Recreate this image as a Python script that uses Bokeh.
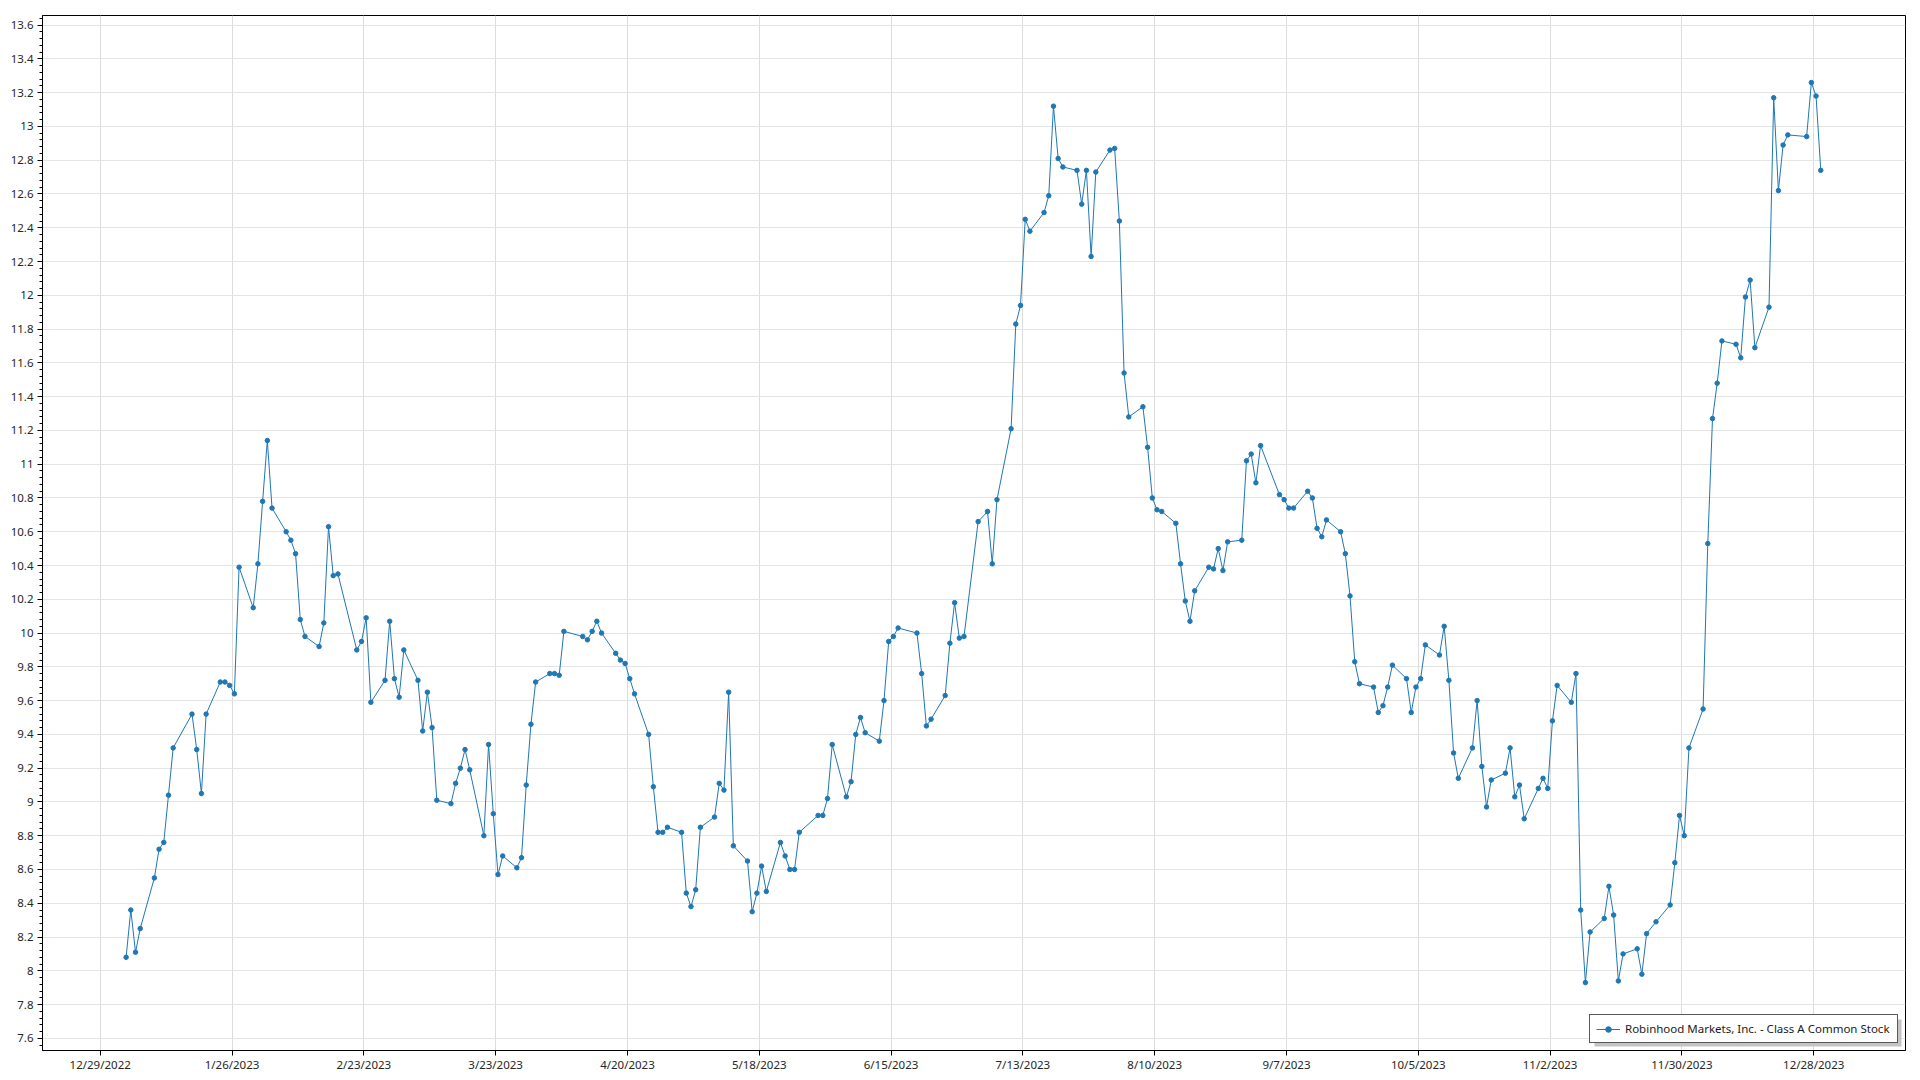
import pandas as pd
from bokeh.plotting import figure
from bokeh.models import (ColumnDataSource, FixedTicker, NumeralTickFormatter, Range1d,
                          Legend, LegendItem, BoxAnnotation)
from bokeh.embed import file_html
from bokeh.resources import INLINE

# ---------------- data ----------------
series_name = "Robinhood Markets, Inc. - Class A Common Stock"

trade_dates = [
    "2023-01-03", "2023-01-04", "2023-01-05", "2023-01-06", "2023-01-09", "2023-01-10", "2023-01-11",
    "2023-01-12", "2023-01-13", "2023-01-17", "2023-01-18", "2023-01-19", "2023-01-20", "2023-01-23",
    "2023-01-24", "2023-01-25", "2023-01-26", "2023-01-27", "2023-01-30", "2023-01-31",
    "2023-02-01", "2023-02-02", "2023-02-03", "2023-02-06", "2023-02-07", "2023-02-08", "2023-02-09",
    "2023-02-10", "2023-02-13", "2023-02-14", "2023-02-15", "2023-02-16", "2023-02-17", "2023-02-21",
    "2023-02-22", "2023-02-23", "2023-02-24", "2023-02-27", "2023-02-28",
    "2023-03-01", "2023-03-02", "2023-03-03", "2023-03-06", "2023-03-07", "2023-03-08", "2023-03-09",
    "2023-03-10", "2023-03-13", "2023-03-14", "2023-03-15", "2023-03-16", "2023-03-17", "2023-03-20",
    "2023-03-21", "2023-03-22", "2023-03-23", "2023-03-24", "2023-03-27", "2023-03-28", "2023-03-29",
    "2023-03-30", "2023-03-31",
    "2023-04-03", "2023-04-04", "2023-04-05", "2023-04-06", "2023-04-10", "2023-04-11", "2023-04-12",
    "2023-04-13", "2023-04-14", "2023-04-17", "2023-04-18", "2023-04-19", "2023-04-20", "2023-04-21",
    "2023-04-24", "2023-04-25", "2023-04-26", "2023-04-27", "2023-04-28",
    "2023-05-01", "2023-05-02", "2023-05-03", "2023-05-04", "2023-05-05", "2023-05-08", "2023-05-09",
    "2023-05-10", "2023-05-11", "2023-05-12", "2023-05-15", "2023-05-16", "2023-05-17", "2023-05-18",
    "2023-05-19", "2023-05-22", "2023-05-23", "2023-05-24", "2023-05-25", "2023-05-26", "2023-05-30",
    "2023-05-31",
    "2023-06-01", "2023-06-02", "2023-06-05", "2023-06-06", "2023-06-07", "2023-06-08", "2023-06-09",
    "2023-06-12", "2023-06-13", "2023-06-14", "2023-06-15", "2023-06-16", "2023-06-20", "2023-06-21",
    "2023-06-22", "2023-06-23", "2023-06-26", "2023-06-27", "2023-06-28", "2023-06-29", "2023-06-30",
    "2023-07-03", "2023-07-05", "2023-07-06", "2023-07-07", "2023-07-10", "2023-07-11", "2023-07-12",
    "2023-07-13", "2023-07-14", "2023-07-17", "2023-07-18", "2023-07-19", "2023-07-20", "2023-07-21",
    "2023-07-24", "2023-07-25", "2023-07-26", "2023-07-27", "2023-07-28", "2023-07-31",
    "2023-08-01", "2023-08-02", "2023-08-03", "2023-08-04", "2023-08-07", "2023-08-08", "2023-08-09",
    "2023-08-10", "2023-08-11", "2023-08-14", "2023-08-15", "2023-08-16", "2023-08-17", "2023-08-18",
    "2023-08-21", "2023-08-22", "2023-08-23", "2023-08-24", "2023-08-25", "2023-08-28", "2023-08-29",
    "2023-08-30", "2023-08-31",
    "2023-09-01", "2023-09-05", "2023-09-06", "2023-09-07", "2023-09-08", "2023-09-11", "2023-09-12",
    "2023-09-13", "2023-09-14", "2023-09-15", "2023-09-18", "2023-09-19", "2023-09-20", "2023-09-21",
    "2023-09-22", "2023-09-25", "2023-09-26", "2023-09-27", "2023-09-28", "2023-09-29",
    "2023-10-02", "2023-10-03", "2023-10-04", "2023-10-05", "2023-10-06", "2023-10-09", "2023-10-10",
    "2023-10-11", "2023-10-12", "2023-10-13", "2023-10-16", "2023-10-17", "2023-10-18", "2023-10-19",
    "2023-10-20", "2023-10-23", "2023-10-24", "2023-10-25", "2023-10-26", "2023-10-27", "2023-10-30",
    "2023-10-31",
    "2023-11-01", "2023-11-02", "2023-11-03", "2023-11-06", "2023-11-07", "2023-11-08", "2023-11-09",
    "2023-11-10", "2023-11-13", "2023-11-14", "2023-11-15", "2023-11-16", "2023-11-17", "2023-11-20",
    "2023-11-21", "2023-11-22", "2023-11-24", "2023-11-27", "2023-11-28", "2023-11-29", "2023-11-30",
    "2023-12-01", "2023-12-04", "2023-12-05", "2023-12-06", "2023-12-07", "2023-12-08", "2023-12-11",
    "2023-12-12", "2023-12-13", "2023-12-14", "2023-12-15", "2023-12-18", "2023-12-19", "2023-12-20",
    "2023-12-21", "2023-12-22", "2023-12-26", "2023-12-27", "2023-12-28", "2023-12-29",
]

close_prices = [
    # Jan
    8.08, 8.36, 8.11, 8.25, 8.55, 8.72, 8.76, 9.04, 9.32, 9.52, 9.31, 9.05, 9.52, 9.71, 9.71, 9.69,
    9.64, 10.39, 10.15, 10.41,
    # Feb
    10.78, 11.14, 10.74, 10.60, 10.55, 10.47, 10.08, 9.98, 9.92, 10.06, 10.63, 10.34, 10.35, 9.90,
    9.95, 10.09, 9.59, 9.72, 10.07,
    # Mar
    9.73, 9.62, 9.90, 9.72, 9.42, 9.65, 9.44, 9.01, 8.99, 9.11, 9.20, 9.31, 9.19, 8.80, 9.34, 8.93,
    8.57, 8.68, 8.61, 8.67, 9.10, 9.46, 9.71,
    # Apr
    9.76, 9.76, 9.75, 10.01, 9.98, 9.96, 10.01, 10.07, 10.00, 9.88, 9.84, 9.82, 9.73, 9.64, 9.40,
    9.09, 8.82, 8.82, 8.85,
    # May
    8.82, 8.46, 8.38, 8.48, 8.85, 8.91, 9.11, 9.07, 9.65, 8.74, 8.65, 8.35, 8.46, 8.62, 8.47, 8.76,
    8.68, 8.60, 8.60, 8.82, 8.92, 8.92,
    # Jun
    9.02, 9.34, 9.03, 9.12, 9.40, 9.50, 9.41, 9.36, 9.60, 9.95, 9.98, 10.03, 10.00, 9.76, 9.45, 9.49,
    9.63, 9.94, 10.18, 9.97, 9.98,
    # Jul
    10.66, 10.72, 10.41, 10.79, 11.21, 11.83, 11.94, 12.45, 12.38, 12.49, 12.59, 13.12, 12.81, 12.76,
    12.74, 12.54, 12.74, 12.23, 12.73, 12.86,
    # Aug
    12.87, 12.44, 11.54, 11.28, 11.34, 11.10, 10.80, 10.73, 10.72, 10.65, 10.41, 10.19, 10.07, 10.25,
    10.39, 10.38, 10.50, 10.37, 10.54, 10.55, 11.02, 11.06, 10.89,
    # Sep
    11.11, 10.82, 10.79, 10.74, 10.74, 10.84, 10.80, 10.62, 10.57, 10.67, 10.60, 10.47, 10.22, 9.83,
    9.70, 9.68, 9.53, 9.57, 9.68, 9.81,
    # Oct
    9.73, 9.53, 9.68, 9.73, 9.93, 9.87, 10.04, 9.72, 9.29, 9.14, 9.32, 9.60, 9.21, 8.97, 9.13, 9.17,
    9.32, 9.03, 9.10, 8.90, 9.08, 9.14,
    # Nov
    9.08, 9.48, 9.69, 9.59, 9.76, 8.36, 7.93, 8.23, 8.31, 8.50, 8.33, 7.94, 8.10, 8.13, 7.98, 8.22,
    8.29, 8.39, 8.64, 8.92, 8.80,
    # Dec
    9.32, 9.55, 10.53, 11.27, 11.48, 11.73, 11.71, 11.63, 11.99, 12.09, 11.69, 11.93, 13.17, 12.62,
    12.89, 12.95, 12.94, 13.26, 13.18, 12.74,
]
assert len(trade_dates) == len(close_prices)

x_tick_dates = ["2022-12-29", "2023-01-26", "2023-02-23", "2023-03-23", "2023-04-20", "2023-05-18",
                "2023-06-15", "2023-07-13", "2023-08-10", "2023-09-07", "2023-10-05", "2023-11-02",
                "2023-11-30", "2023-12-28"]
x_tick_labels = ["12/29/2022", "1/26/2023", "2/23/2023", "3/23/2023", "4/20/2023", "5/18/2023",
                 "6/15/2023", "7/13/2023", "8/10/2023", "9/7/2023", "10/5/2023", "11/2/2023",
                 "11/30/2023", "12/28/2023"]
y_ticks = [7.6, 7.8, 8.0, 8.2, 8.4, 8.6, 8.8, 9.0, 9.2, 9.4, 9.6, 9.8, 10.0, 10.2, 10.4, 10.6, 10.8,
           11.0, 11.2, 11.4, 11.6, 11.8, 12.0, 12.2, 12.4, 12.6, 12.8, 13.0, 13.2, 13.4, 13.6]

# ---------------- layout / style ----------------
FONT = "Noto Sans"
FS = "11.5px"
base = pd.Timestamp(x_tick_dates[0])
day_of = lambda d: (pd.Timestamp(d) - base).days

xs = [day_of(d) + 0.5 for d in trade_dates]   # closes plotted mid-day
tick_x = [day_of(d) for d in x_tick_dates]
minor_y = [round(7.52 + 0.04 * i, 2) for i in range(154)]

src = ColumnDataSource(data=dict(x=xs, y=close_prices))

W, H = 1916, 1076
BL, BR, BT, BB = 42, 11, 15, 26
p = figure(width=W, height=H, output_backend="svg", toolbar_location=None,
           x_range=Range1d(-12.26, 383.5), y_range=Range1d(7.528, 13.657),
           min_border_left=BL, min_border_right=BR, min_border_top=BT, min_border_bottom=BB,
           background_fill_color="white", border_fill_color="white")
p.outline_line_color = "black"
p.outline_line_width = 1
p.outline_line_alpha = 1

# x axis
p.xaxis.ticker = FixedTicker(ticks=tick_x)
p.xaxis.major_label_overrides = {t: l for t, l in zip(tick_x, x_tick_labels)}
p.xaxis.minor_tick_line_color = None
p.xaxis.major_tick_out = 5
p.xaxis.major_tick_in = 0
p.xaxis.major_label_standoff = 1

# y axis
p.yaxis.ticker = FixedTicker(ticks=y_ticks, minor_ticks=minor_y)
p.yaxis.formatter = NumeralTickFormatter(format="0.[0]")
p.yaxis.major_tick_out = 5
p.yaxis.major_tick_in = 0
p.yaxis.minor_tick_out = 3
p.yaxis.minor_tick_in = 0
p.yaxis.major_label_standoff = 4

for ax in (p.xaxis, p.yaxis):
    ax.axis_line_color = "black"
    ax.axis_line_width = 1
    ax.major_tick_line_color = "black"
    ax.major_label_text_font = FONT
    ax.major_label_text_font_size = FS
    ax.major_label_text_color = "#262626"
p.yaxis.minor_tick_line_color = "black"

p.xgrid.grid_line_color = "#dcdcdc"
p.ygrid.grid_line_color = "#e4e4e4"
p.grid.grid_line_width = 1

# series
COLOR = "#1f77b4"
line_r = p.line("x", "y", source=src, line_color=COLOR, line_width=1)
dots_r = p.scatter("x", "y", source=src, size=4.5, fill_color=COLOR, line_color=COLOR, line_width=1)

# legend shadow (frame-relative screen units), then legend
frame_w = W - BL - BR
LEG_W, LEG_H, LEG_M = 307, 27, 7
shadow = BoxAnnotation(left=frame_w - LEG_M - LEG_W + 3, right=frame_w - LEG_M + 3,
                       bottom=LEG_M - 3, top=LEG_M + LEG_H - 3,
                       left_units="screen", right_units="screen",
                       bottom_units="screen", top_units="screen",
                       fill_color="#c4c4c4", fill_alpha=1, line_color=None)
p.add_layout(shadow)

legend = Legend(items=[LegendItem(label=series_name, renderers=[line_r, dots_r])],
                location="bottom_right", margin=LEG_M, padding=6, spacing=0,
                glyph_width=24, glyph_height=14, label_height=14, label_width=266,
                label_standoff=5, label_text_font=FONT, label_text_font_size=FS,
                label_text_color="#1a1a1a",
                border_line_color="#595959", border_line_width=1.5, border_line_alpha=1,
                background_fill_color="white", background_fill_alpha=1)
p.add_layout(legend)

open("out.html", "w").write(file_html(p, INLINE))
